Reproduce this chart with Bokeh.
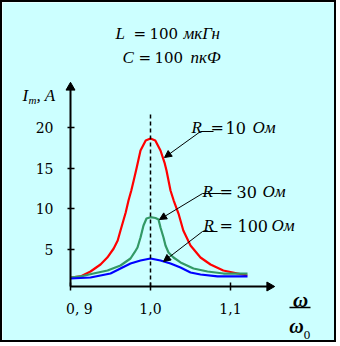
import math
from bokeh.plotting import figure
from bokeh.models import Label, Arrow, NormalHead, FixedTicker
from bokeh.embed import file_html
from bokeh.resources import INLINE

# ---- data ----
w_red = [0.900, 0.9125, 0.925, 0.9375, 0.946, 0.954, 0.959, 0.9625, 0.969, 0.9725,
         0.976, 0.979, 0.9825, 0.9875, 0.994, 1.000, 1.006, 1.0125, 1.0175, 1.02,
         1.025, 1.029, 1.035, 1.041, 1.05, 1.0625, 1.075, 1.091, 1.109, 1.121]
i_red = [1.56, 1.69, 2.30, 3.16, 4.02, 5.13, 6.11, 7.34, 9.56, 11.03,
         12.26, 13.49, 14.97, 17.18, 18.41, 18.66, 18.41, 17.18, 15.70, 14.72,
         12.26, 11.03, 9.43, 7.34, 5.50, 4.02, 3.16, 2.42, 2.05, 1.81]

w_green = [0.900, 0.9125, 0.92875, 0.94625, 0.9625, 0.975, 0.98, 0.98375, 0.9875, 0.99125,
           0.995, 1.000, 1.00625, 1.01, 1.0125, 1.01625, 1.01875, 1.0225, 1.02875, 1.0375,
           1.05375, 1.07125, 1.09125, 1.10875, 1.12125]
i_green = [1.56, 1.69, 2.05, 2.42, 3.04, 3.90, 4.64, 5.25, 6.48, 7.96,
           8.82, 8.98, 8.88, 8.70, 7.71, 6.48, 5.50, 4.64, 4.02, 3.41,
           2.67, 2.30, 2.05, 2.05, 2.05]

w_blue = [0.900, 0.925, 0.9375, 0.95, 0.9625, 0.975, 0.9875, 1.000, 1.0125, 1.025,
          1.0375, 1.05, 1.0625, 1.08375, 1.10375, 1.12125]
i_blue = [1.44, 1.56, 1.81, 2.05, 2.67, 3.28, 3.65, 3.90, 3.65, 3.28,
          2.79, 2.18, 1.93, 1.69, 1.69, 1.69]

x_ticks = [0.9, 1.0, 1.1]
x_tick_labels = ["\u00a0\u00a0\u00a0\u00a00, 9", "1,0", "1,1"]
y_ticks = [5, 10, 15, 20]
resonance = 1.0
dash_top = 21.7


def X(px):
    return 0.9 + (px - 70) / 800


def Y(py):
    return (289.7 - py) / 8.13


# axis extents (data units)
AX_X0, AX_X1 = 0.9, X(273)
AX_Y0, AX_Y1 = Y(286), Y(83)

p = figure(width=336, height=342, x_range=(X(2), X(338)), y_range=(Y(344), Y(2)),
           output_backend="svg", toolbar_location=None, title=None,
           min_border_left=0, min_border_right=0, min_border_top=0, min_border_bottom=0)
p.styles = {"border": "2px solid black"}
p.background_fill_color = "#CCFFFF"
p.border_fill_color = "#CCFFFF"
p.outline_line_color = None
p.xgrid.visible = False
p.ygrid.visible = False

for ax in (p.xaxis, p.yaxis):
    ax.axis_line_width = 2
    ax.axis_line_color = "black"
    ax.major_tick_line_width = 1.5
    ax.major_tick_line_color = "black"
    ax.minor_tick_line_color = None
    ax.major_label_text_font = "DejaVu Serif"
    ax.major_label_text_font_size = "14px"
    ax.major_label_text_color = "black"

p.xaxis.fixed_location = AX_Y0
p.xaxis.bounds = (AX_X0, X(268))
p.xaxis.ticker = FixedTicker(ticks=x_ticks)
p.xaxis.major_label_overrides = {t: s for t, s in zip(x_ticks, x_tick_labels)}
p.xaxis.major_tick_in = 4
p.xaxis.major_tick_out = 4
p.xaxis.major_label_standoff = 10

p.yaxis.fixed_location = AX_X0
p.yaxis.bounds = (AX_Y0, Y(88))
p.yaxis.ticker = FixedTicker(ticks=y_ticks)
p.yaxis.major_tick_in = 4
p.yaxis.major_tick_out = 3
p.yaxis.major_label_standoff = 14

# curves
p.line(w_red, i_red, line_color="#FF0000", line_width=2.2, line_join="round")
p.line(w_green, i_green, line_color="#339966", line_width=2.2, line_join="round")
p.line(w_blue, i_blue, line_color="#0000FF", line_width=2.2, line_join="round")

# dashed resonance line
p.line([resonance, resonance], [AX_Y0, dash_top], line_color="black", line_width=1.5, line_dash="4 3")

# axis arrow heads (triangle markers at the axis ends)
p.scatter([AX_X0], [Y(87)], marker="triangle", size=9, fill_color="black", line_color="black")
p.scatter([X(269)], [AX_Y0], marker="triangle", size=9, angle=-math.pi / 2,
          fill_color="black", line_color="black")


def txt(px, py, s, size, font="Liberation Serif", style="italic", align="left"):
    p.add_layout(Label(x=X(px), y=Y(py), text=s, text_font=font, text_font_size=f"{size}px",
                       text_font_style=style, text_align=align, text_baseline="alphabetic",
                       text_color="black"))


def seg(px0, py0, px1, py1, head=False, w=1.0):
    p.add_layout(Arrow(end=NormalHead(size=7, fill_color="black", line_color="black") if head else None,
                       x_start=X(px0), y_start=Y(py0), x_end=X(px1), y_end=Y(py1),
                       line_width=w, line_color="black"))


# title
txt(115, 33, "L", 17)
txt(133, 33, "=", 15, "DejaVu Serif", "normal")
txt(149, 33, "100", 15, "DejaVu Serif", "normal")
txt(183, 33, "мкГн", 17)
txt(122, 57, "C", 17)
txt(138, 57, "=", 15, "DejaVu Serif", "normal")
txt(154, 57, "100", 15, "DejaVu Serif", "normal")
txt(190, 57, "пкФ", 17)

# y label
txt(22, 95, "I", 17)
txt(28, 99, "m", 11)
txt(36, 95, ", A", 17)

# x label
txt(300, 299, "ω", 21, style="bold italic", align="center")
seg(289, 307, 310, 307, w=1.5)
txt(296, 325, "ω", 20, style="bold italic", align="center")
txt(303, 334, "0", 11, "DejaVu Serif", "normal")

# series labels
txt(191, 127, "R", 17)
txt(210, 127, "=", 16, "DejaVu Serif", "normal")
txt(225, 127, "10", 16, "DejaVu Serif", "normal")
txt(252, 127, "Ом", 17)
seg(200, 131, 213, 131)
seg(200, 131, 164, 157, head=True)

txt(202, 191, "R", 17)
txt(219, 191, "=", 16, "DejaVu Serif", "normal")
txt(236, 191, "30", 16, "DejaVu Serif", "normal")
txt(262, 191, "Ом", 17)
seg(202, 193, 221, 193)
seg(202, 193, 159, 219, head=True)

txt(203, 225, "R", 17)
txt(219, 225, "=", 16, "DejaVu Serif", "normal")
txt(237, 225, "100", 16, "DejaVu Serif", "normal")
txt(271, 225, "Ом", 17)
seg(202, 231, 217, 231)
seg(202, 231, 163, 261, head=True)

open("out.html", "w").write(file_html(p, INLINE))
